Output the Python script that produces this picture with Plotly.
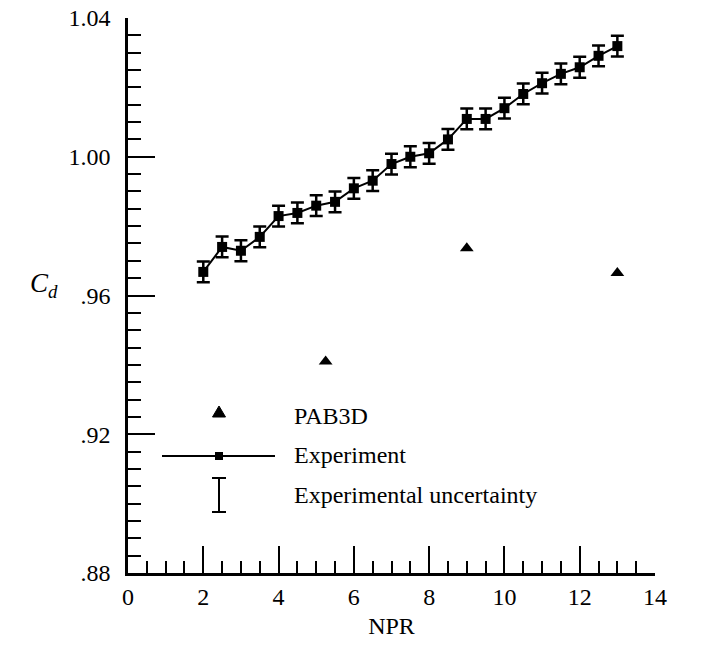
import plotly.graph_objects as go

# ---- data ----
npr_exp = [2, 2.5, 3, 3.5, 4, 4.5, 5, 5.5, 6, 6.5, 7, 7.5, 8, 8.5, 9, 9.5,
           10, 10.5, 11, 11.5, 12, 12.5, 13]
cd_exp = [0.9668, 0.9740, 0.9729, 0.9769, 0.9829, 0.9838, 0.9859, 0.9870,
          0.9909, 0.9931, 0.9979, 1.0000, 1.0010, 1.0050, 1.0109, 1.0109,
          1.0140, 1.0181, 1.0212, 1.0239, 1.0258, 1.0291, 1.0319]
uncertainty = 0.003

npr_pab = [5.25, 9, 13]
cd_pab = [0.941, 0.9736, 0.9665]

x_tickvals = [0, 2, 4, 6, 8, 10, 12, 14]
y_tickvals = [0.88, 0.92, 0.96, 1.00, 1.04]
y_ticktext = [".88", ".92", ".96", "1.00", "1.04"]

legend_labels = ["PAB3D", "Experiment", "Experimental uncertainty"]

FONT = "Liberation Serif, Times New Roman, serif"
W, H = 707, 645
ML, MR, MT, MB = 128, 52, 18, 72
PW, PH = W - ML - MR, H - MT - MB


def px(x):
    return (x - ML) / PW


def py(y):
    return (H - MB - y) / PH


fig = go.Figure()

fig.add_trace(go.Scatter(
    x=npr_exp, y=cd_exp, mode="lines+markers",
    line=dict(color="black", width=2),
    marker=dict(symbol="square", size=10, color="black"),
    error_y=dict(type="constant", value=uncertainty, color="black",
                 thickness=2.5, width=6.5),
    showlegend=False,
))

fig.add_trace(go.Scatter(
    x=npr_pab, y=cd_pab, mode="markers",
    marker=dict(symbol="triangle-up", size=12, color="black"),
    showlegend=False,
))

shapes = []
annotations = []

# Legend: PAB3D triangle
tx, ty = 219, 412
tri = f"M {px(tx-6.5)} {py(ty+5)} L {px(tx+6.5)} {py(ty+5)} L {px(tx)} {py(ty-6)} Z"
shapes.append(dict(type="path", xref="paper", yref="paper", path=tri,
                   fillcolor="black", line=dict(color="black", width=1)))
# Legend: Experiment line + square
ly = 456
shapes.append(dict(type="line", xref="paper", yref="paper",
                   x0=px(162), x1=px(275), y0=py(ly), y1=py(ly),
                   line=dict(color="black", width=2)))
shapes.append(dict(type="rect", xref="paper", yref="paper",
                   x0=px(215), x1=px(223), y0=py(ly + 4), y1=py(ly - 4),
                   fillcolor="black", line=dict(color="black", width=0)))
# Legend: uncertainty I-bar
ux, uy0, uy1 = 219, 478, 512
shapes.append(dict(type="line", xref="paper", yref="paper",
                   x0=px(ux), x1=px(ux), y0=py(uy0), y1=py(uy1),
                   line=dict(color="black", width=2)))
for yy in (uy0, uy1):
    shapes.append(dict(type="line", xref="paper", yref="paper",
                       x0=px(ux - 7), x1=px(ux + 7), y0=py(yy), y1=py(yy),
                       line=dict(color="black", width=2)))

for label, yy in zip(legend_labels, [416, 455, 495]):
    annotations.append(dict(text=label, xref="paper", yref="paper",
                            x=px(292), y=py(yy), xanchor="left", yanchor="middle",
                            showarrow=False,
                            font=dict(family=FONT, size=24, color="black")))

# Y axis label C_d
annotations.append(dict(text="<i>C<sub>d</sub></i>", xref="paper", yref="paper",
                        x=px(44), y=py(285), xanchor="center", yanchor="middle",
                        showarrow=False,
                        font=dict(family=FONT, size=27, color="black")))

fig.update_layout(
    width=W, height=H,
    margin=dict(l=ML, r=MR, t=MT, b=MB, autoexpand=False),
    paper_bgcolor="white", plot_bgcolor="white",
    font=dict(family=FONT, color="black"),
    shapes=shapes, annotations=annotations,
    showlegend=False,
)

fig.update_xaxes(
    range=[0, 14], tickvals=x_tickvals, ticks="inside", ticklen=27, tickwidth=2,
    tickcolor="black", showline=True, linecolor="black", linewidth=2.5,
    showgrid=False, zeroline=False, automargin=False,
    tickfont=dict(family=FONT, size=24, color="black"),
    minor=dict(dtick=0.5, ticks="inside", ticklen=12, tickwidth=2, tickcolor="black",
               showgrid=False),
    title=dict(text="NPR", font=dict(family=FONT, size=24, color="black"), standoff=9),
)
fig.update_yaxes(
    range=[0.88, 1.04], tickvals=y_tickvals, ticktext=y_ticktext,
    ticks="inside", ticklen=27, tickwidth=2, tickcolor="black",
    showline=True, linecolor="black", linewidth=2.5,
    showgrid=False, zeroline=False, ticklabelstandoff=10, automargin=False,
    tickfont=dict(family=FONT, size=24, color="black"),
    minor=dict(dtick=0.005, ticks="inside", ticklen=13, tickwidth=2, tickcolor="black",
               showgrid=False),
)

fig.write_html("out.html", config={"displayModeBar": False},
               post_script="document.body.style.margin='0';document.body.style.overflow='hidden';")
